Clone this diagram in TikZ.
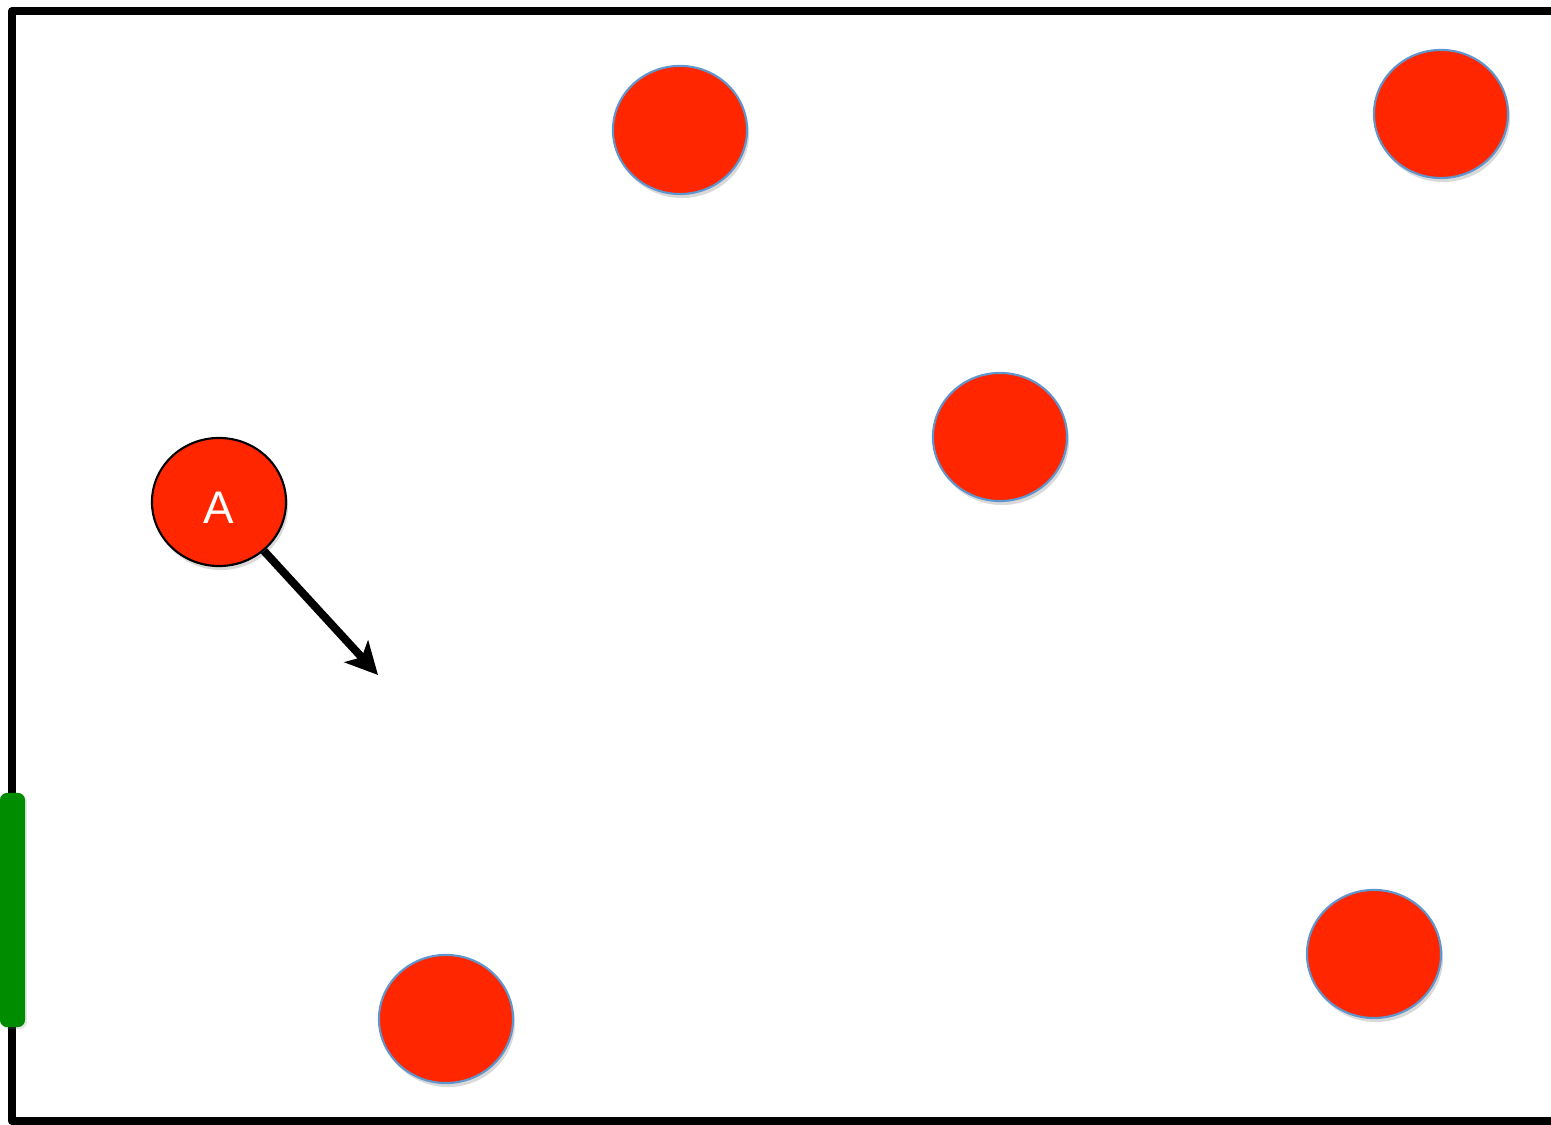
\documentclass[tikz,border=0pt]{standalone}
\usepackage{fontspec}
\setsansfont{Liberation Sans}
\usetikzlibrary{positioning,shapes.geometric,shadows,arrows.meta}
\definecolor{BallRed}{RGB}{255,38,0}
\definecolor{BallEdge}{RGB}{95,150,205}
\definecolor{DoorGreen}{RGB}{0,140,0}

\begin{document}
\begin{tikzpicture}[x=0.01cm, y=-0.01cm,
  every node/.style={font=\sffamily\fontsize{13}{15}\selectfont},
  ball/.style={ellipse, minimum width=1.34cm, minimum height=1.28cm, inner sep=0pt,
    fill=BallRed, draw=BallEdge, line width=0.6pt,
    drop shadow={shadow xshift=0.02cm, shadow yshift=-0.04cm, opacity=0.25, fill=black!60}},
  wall/.style={line width=0.08cm, line join=round}]
  \useasboundingbox (0,0) rectangle (1551,1125);
  % walls
  \draw[wall] (1551,11) -- (12,11) -- (12,1121) -- (1551,1121);
  % exit
  \node[draw=none, fill=DoorGreen, rounded corners=0.07cm, minimum width=0.25cm,
    minimum height=2.34cm, inner sep=0pt,
    drop shadow={shadow xshift=0.02cm, shadow yshift=-0.02cm, opacity=0.2}]
    (exit) at (12.5,910) {};
  % balls
  \node[ball] (ballB) at (680,130) {};
  \node[ball] (ballC) at (1441,114) {};
  \node[ball] (ballD) at (1000,437) {};
  \node[ball] (ballE) at (446,1019) {};
  \node[ball] (ballF) at (1374,954) {};
  \node[ball, draw=black, text=white, text height=0.42cm] (ballA) at (219,502) {A};
  \coordinate (aim) at (378,675);
  \draw[line width=0.08cm, -{Stealth[length=0.32cm, width=0.32cm, inset=0.08cm]}]
    (ballA) -- (aim);
\end{tikzpicture}
\end{document}
